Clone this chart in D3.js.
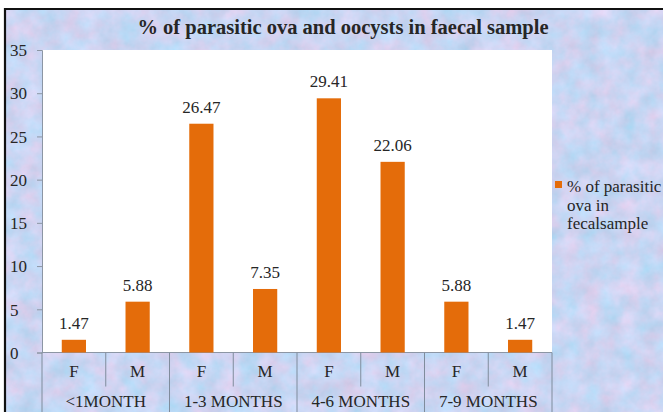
<!DOCTYPE html>
<html>
<head>
<meta charset="utf-8">
<script src="https://cdn.jsdelivr.net/npm/d3@7"></script>
<style>
  html, body { margin: 0; padding: 0; background: #fff; }
  svg { display: block; }
  text { font-family: "Liberation Serif", "Times New Roman", serif; fill: #262626; }
</style>
</head>
<body>
<div id="chart"></div>
<script>
// Age groups, sexes within each group, and % positive samples per bar
const groups = ["<1MONTH", "1-3 MONTHS", "4-6 MONTHS", "7-9 MONTHS"];
const sexes = ["F", "M"];
const values = [1.47, 5.88, 26.47, 7.35, 29.41, 22.06, 5.88, 1.47];
const labels = ["1.47", "5.88", "26.47", "7.35", "29.41", "22.06", "5.88", "1.47"];
const yTicks = [0, 5, 10, 15, 20, 25, 30, 35];
const title = "% of parasitic ova and oocysts in faecal sample";
const legendLines = ["% of parasitic", "ova in", "fecalsample"];

const W = 663, H = 412;
const plot = { left: 42, right: 552, top: 50, bottom: 352.5 };
const FS = 17;

const svg = d3.select("#chart").append("svg")
  .attr("width", W).attr("height", H);

// mottled pastel background (light blue with pink patches)
const defs = svg.append("defs");
const f = defs.append("filter").attr("id", "mottle")
  .attr("color-interpolation-filters", "sRGB")
  .attr("x", 0).attr("y", 0).attr("width", "100%").attr("height", "100%");
f.append("feTurbulence").attr("type", "fractalNoise")
  .attr("baseFrequency", "0.05").attr("numOctaves", 4).attr("seed", 11);
f.append("feColorMatrix").attr("type", "matrix")
  .attr("values",
    "0.24 0.10 0 0 0.62  " +
    "-0.05 0.10 0 0 0.81  " +
    "-0.04 0.10 0 0 0.92  " +
    "0 0 0 0 1");

svg.append("rect").attr("x", 0).attr("y", 0).attr("width", W).attr("height", H)
  .attr("fill", "#c8d8f2");
svg.append("rect").attr("x", 5).attr("y", 9).attr("width", W - 5).attr("height", H - 9)
  .attr("filter", "url(#mottle)");

// white margin outside the frame
svg.append("rect").attr("x", 0).attr("y", 0).attr("width", W).attr("height", 8).attr("fill", "#fff");
svg.append("rect").attr("x", 0).attr("y", 0).attr("width", 4).attr("height", H).attr("fill", "#fff");
// outer frame (top and left edges visible)
svg.append("line").attr("x1", 4).attr("x2", W).attr("y1", 9).attr("y2", 9)
  .attr("stroke", "#111").attr("stroke-width", 2.2);
svg.append("line").attr("x1", 5).attr("x2", 5).attr("y1", 8).attr("y2", H)
  .attr("stroke", "#111").attr("stroke-width", 2.2);

// scales
const keys = d3.range(values.length);
const x = d3.scaleBand().domain(keys).range([plot.left, plot.right]).paddingInner(0).paddingOuter(0);
const y = d3.scaleLinear().domain([0, 35]).range([plot.bottom, plot.top]);

// plot area
svg.append("rect")
  .attr("x", plot.left).attr("y", plot.top)
  .attr("width", plot.right - plot.left).attr("height", plot.bottom - plot.top)
  .attr("fill", "#ffffff");

// y axis
const yAxis = d3.axisLeft(y).tickValues(yTicks).tickSize(5).tickPadding(4);
const gy = svg.append("g").attr("transform", `translate(${plot.left},0)`).call(yAxis);
gy.attr("font-family", null).attr("font-size", null);
gy.select(".domain").attr("stroke", "#8c96a4");
gy.selectAll(".tick line").attr("stroke", "#8c96a4");
gy.selectAll(".tick text")
  .attr("x", -32).attr("text-anchor", "start")
  .attr("dy", "0.34em")
  .attr("font-size", FS).attr("fill", "#262626");

// x axis baseline
svg.append("line").attr("x1", plot.left).attr("x2", plot.right)
  .attr("y1", plot.bottom).attr("y2", plot.bottom)
  .attr("stroke", "#8c96a4").attr("stroke-width", 1);

// category dividers: short between sexes, long between groups
const axisStroke = "#7f8c9c";
keys.forEach(i => {
  const xl = x(i);
  const long = i % sexes.length === 0;
  svg.append("line")
    .attr("x1", xl).attr("x2", xl)
    .attr("y1", plot.bottom).attr("y2", long ? H : plot.bottom + 34)
    .attr("stroke", axisStroke).attr("stroke-width", 1);
});
svg.append("line")
  .attr("x1", plot.right).attr("x2", plot.right)
  .attr("y1", plot.bottom).attr("y2", H)
  .attr("stroke", axisStroke).attr("stroke-width", 1);

// sex labels
svg.append("g").selectAll("text").data(keys).join("text")
  .attr("x", i => x(i) + x.bandwidth() / 2)
  .attr("y", plot.bottom + 24)
  .attr("text-anchor", "middle")
  .attr("font-size", FS)
  .text(i => sexes[i % sexes.length]);

// group labels
svg.append("g").selectAll("text").data(groups).join("text")
  .attr("x", (g, gi) => x(gi * 2) + x.bandwidth())
  .attr("y", plot.bottom + 54)
  .attr("text-anchor", "middle")
  .attr("font-size", FS)
  .text(g => g);

// bars
const barW = x.bandwidth() * 0.38;
svg.append("g").selectAll("rect").data(keys).join("rect")
  .attr("x", i => x(i) + (x.bandwidth() - barW) / 2)
  .attr("y", i => y(values[i]))
  .attr("width", barW)
  .attr("height", i => y(0) - y(values[i]))
  .attr("fill", "#e46c0a");

// value labels
svg.append("g").selectAll("text").data(keys).join("text")
  .attr("x", i => x(i) + x.bandwidth() / 2)
  .attr("y", i => y(values[i]) - 11)
  .attr("text-anchor", "middle")
  .attr("font-size", FS)
  .text(i => labels[i]);

// title
svg.append("text")
  .attr("x", 343).attr("y", 34)
  .attr("text-anchor", "middle")
  .attr("font-size", 20.5).attr("font-weight", "bold")
  .attr("fill", "#111")
  .text(title);

// legend
svg.append("rect").attr("x", 555).attr("y", 181).attr("width", 7).attr("height", 7)
  .attr("fill", "#e46c0a");
svg.append("g").selectAll("text").data(legendLines).join("text")
  .attr("x", 567)
  .attr("y", (d, i) => 192 + i * 18.5)
  .attr("font-size", FS)
  .text(d => d);
</script>
</body>
</html>
